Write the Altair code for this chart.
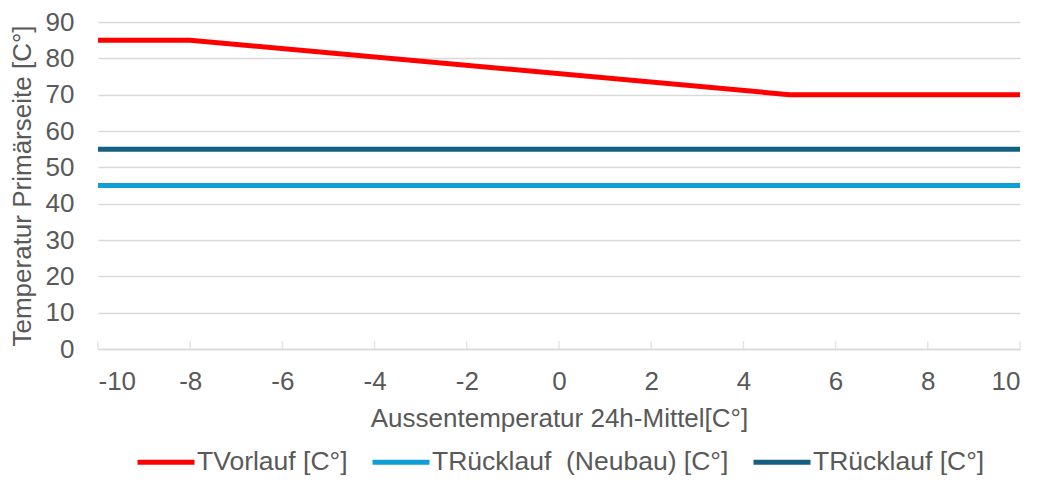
import altair as alt
import pandas as pd

# ---- data ----
series_names = ["TVorlauf [C°]", "TRücklauf\u00a0 (Neubau) [C°]", "TRücklauf [C°]"]
series_colors = ["#FF0000", "#0F9ED5", "#156082"]

vorlauf_x = [-10, -8, 5, 10]
vorlauf_y = [85, 85, 70, 70]
ruecklauf_neubau_x = [-10, 10]
ruecklauf_neubau_y = [45, 45]
ruecklauf_x = [-10, 10]
ruecklauf_y = [55, 55]

x_ticks = [-10, -8, -6, -4, -2, 0, 2, 4, 6, 8, 10]
y_ticks = [0, 10, 20, 30, 40, 50, 60, 70, 80, 90]

rows = []
for name, xs, ys in [
    (series_names[0], vorlauf_x, vorlauf_y),
    (series_names[1], ruecklauf_neubau_x, ruecklauf_neubau_y),
    (series_names[2], ruecklauf_x, ruecklauf_y),
]:
    for i, (xv, yv) in enumerate(zip(xs, ys)):
        rows.append({"series": name, "x": xv, "y": yv, "order": i})
df = pd.DataFrame(rows)
ticks_df = pd.DataFrame({"x": x_ticks, "y0": [0] * len(x_ticks)})

FONT = "Liberation Sans"
TXT = "#595959"
GRID = "#D9D9D9"
FS = 26

xscale = alt.Scale(domain=[-10, 10], nice=False, zero=False)
yscale = alt.Scale(domain=[0, 90], nice=False)

xaxis = alt.Axis(values=x_ticks, title="Aussentemperatur 24h-Mittel[C°]",
                 labelExpr="datum.value + ''",
                 grid=False, tickSize=0, labelPadding=19, titlePadding=11,
                 domainColor=GRID, domainWidth=1.5)
yaxis = alt.Axis(values=y_ticks, title="Temperatur Primärseite [C°]",
                 grid=True, gridColor=GRID, gridWidth=1.5, domain=False,
                 tickSize=0, labelPadding=24, titlePadding=10)

lines = alt.Chart(df).mark_line(strokeWidth=5, strokeCap="butt").encode(
    x=alt.X("x:Q", scale=xscale, axis=xaxis),
    y=alt.Y("y:Q", scale=yscale, axis=yaxis),
    color=alt.Color("series:N",
                    scale=alt.Scale(domain=series_names, range=series_colors),
                    sort=series_names,
                    legend=alt.Legend(title=None, orient="none", direction="horizontal",
                                      legendX=37, legendY=409,
                                      symbolType="stroke", symbolSize=3249,
                                      symbolStrokeWidth=5, labelFontSize=26.5,
                                      labelLimit=500, labelOffset=0,
                                      columnPadding=14, labelColor=TXT, labelFont=FONT)),
    order="order:Q",
    detail="series:N",
)

ticks = alt.Chart(ticks_df).mark_tick(orient="vertical", size=8, thickness=1.5,
                                      yOffset=-4, color=GRID).encode(
    x=alt.X("x:Q", scale=xscale, axis=xaxis),
    y=alt.Y("y0:Q", scale=yscale, axis=yaxis),
)

chart = alt.layer(lines, ticks).properties(
    width=922, height=327,
    autosize=alt.AutoSizeParams(type="none"),
    padding={"left": 90, "top": 14, "right": 10, "bottom": 129},
).configure_view(stroke=None).configure_axis(
    labelFont=FONT, titleFont=FONT, labelFontSize=FS, titleFontSize=FS,
    labelColor=TXT, titleColor=TXT, titleFontWeight="normal",
).configure_legend(labelFont=FONT)

chart.save("out.html", embed_options={"renderer": "svg", "actions": False})
